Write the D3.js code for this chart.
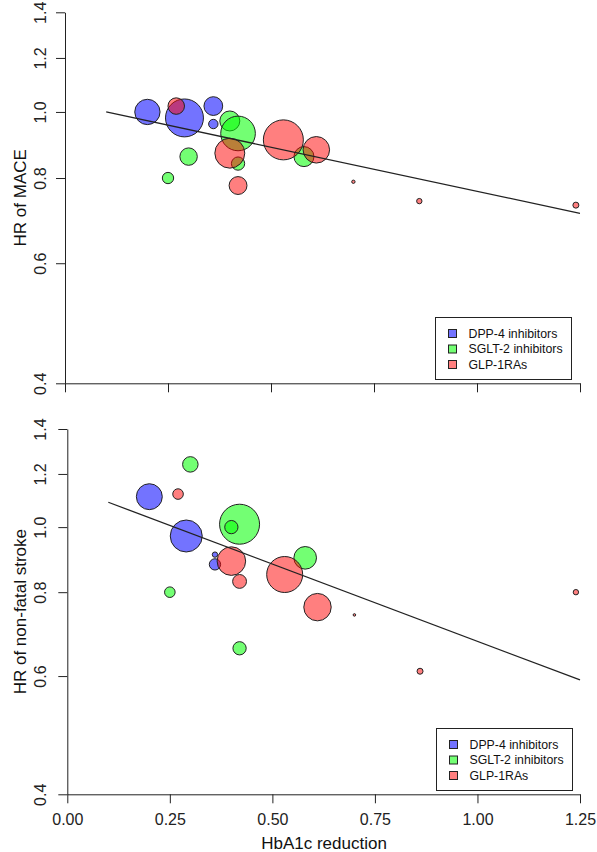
<!DOCTYPE html>
<html>
<head>
<meta charset="utf-8">
<script src="https://cdn.jsdelivr.net/npm/d3@7"></script>
<style>
  html, body { margin: 0; padding: 0; background: #fff; }
  svg { display: block; font-family: "Liberation Sans", Arial, Helvetica, sans-serif; }
</style>
</head>
<body>
<svg id="chart" width="597" height="852"></svg>
<script>
// ---------- DATA ----------
const classes = ["DPP-4 inhibitors", "SGLT-2 inhibitors", "GLP-1RAs"];
const xTicks = [0, 0.25, 0.5, 0.75, 1.0, 1.25];
const yTicks = [0.4, 0.6, 0.8, 1.0, 1.2, 1.4];

// Top panel: HR of MACE
const maceClass = [0, 0, 0, 0, 1, 1, 1, 1, 1, 1, 2, 2, 2, 2, 2, 2, 2, 2];
const maceX     = [0.20, 0.29, 0.36, 0.36, 0.25, 0.30, 0.40, 0.42, 0.42, 0.58, 0.27, 0.40, 0.42, 0.53, 0.61, 0.70, 0.86, 1.24];
const maceHR    = [1.00, 0.98, 1.02, 0.96, 0.80, 0.86, 0.97, 0.93, 0.84, 0.86, 1.02, 0.87, 0.78, 0.91, 0.88, 0.79, 0.74, 0.73];
const maceW     = [40, 90, 22, 5.5, 8, 19, 25, 75, 11, 25, 17, 56, 20, 100, 44, 0.7, 1.8, 2.25];
const maceFitX  = [0.10, 1.25];
const maceFitHR = [1.00, 0.71];

// Bottom panel: HR of non-fatal stroke
const strokeClass = [0, 0, 0, 0, 1, 1, 1, 1, 1, 1, 2, 2, 2, 2, 2, 2, 2, 2];
const strokeX     = [0.20, 0.29, 0.36, 0.36, 0.30, 0.42, 0.40, 0.25, 0.58, 0.42, 0.27, 0.40, 0.42, 0.53, 0.61, 0.70, 0.86, 1.24];
const strokeHR    = [1.11, 0.97, 0.91, 0.88, 1.24, 1.01, 1.00, 0.80, 0.90, 0.66, 1.12, 0.89, 0.83, 0.85, 0.76, 0.74, 0.61, 0.80];
const strokeW     = [42, 64, 1.8, 8, 15, 100, 11, 7, 32, 11, 7, 51, 12, 81, 47, 0.4, 2.25, 1.8];
const strokeFitX  = [0.10, 1.25];
const strokeFitHR = [1.089, 0.592];

// ---------- STYLE ----------
const fills = ["rgba(0,0,255,0.55)", "rgba(0,255,0,0.55)", "rgba(255,0,0,0.5)"];
const svg = d3.select("#chart");
const rScale = d3.scaleSqrt().domain([0, 100]).range([0, 20]);

function panel(cfg) {
  const x = d3.scaleLinear().domain([0, 1.25]).range([cfg.x0, cfg.x1]);
  const y = d3.scaleLog().domain([0.4, 1.4]).range([cfg.y0, cfg.y1]);
  const g = svg.append("g");

  // Y axis
  const ya = g.append("g").attr("transform", `translate(${cfg.x0},0)`)
    .call(d3.axisLeft(y).tickValues(yTicks).tickSize(9).tickSizeOuter(0).tickFormat(d3.format(".1f")));
  ya.select(".domain").attr("stroke", "#222");
  ya.selectAll(".tick line").attr("stroke", "#222");
  ya.selectAll(".tick text")
    .attr("x", null).attr("dy", null)
    .attr("transform", `translate(${40 - cfg.x0},0) rotate(-90)`)
    .attr("text-anchor", "middle").attr("dominant-baseline", "central")
    .attr("font-size", 16).attr("fill", "#222")
    .style("font-family", "inherit");

  // X axis
  const xa = g.append("g").attr("transform", `translate(0,${cfg.y0})`)
    .call(d3.axisBottom(x).tickValues(xTicks).tickSize(9).tickSizeOuter(0).tickFormat(cfg.xLabels ? d3.format(".2f") : ""));
  xa.select(".domain").attr("stroke", "#222");
  xa.selectAll(".tick line").attr("stroke", "#222");
  xa.selectAll(".tick text").attr("y", 31).attr("dy", null)
    .attr("font-size", 16).attr("fill", "#222").style("font-family", "inherit");

  // Y title
  g.append("text")
    .attr("transform", `translate(20,${(cfg.y0 + cfg.y1) / 2}) rotate(-90)`)
    .attr("text-anchor", "middle").attr("dominant-baseline", "central")
    .attr("font-size", 17).attr("fill", "#111").text(cfg.ytitle);

  // Bubbles
  const pts = cfg.cls.map((c, i) => ({ c, x: cfg.xs[i], hr: cfg.hrs[i], w: cfg.ws[i] }));
  g.append("g").selectAll("circle").data(pts).join("circle")
    .attr("cx", d => x(d.x)).attr("cy", d => y(d.hr))
    .attr("r", d => rScale(d.w))
    .attr("fill", d => fills[d.c])
    .attr("stroke", "#222").attr("stroke-width", 1);

  // Fit line
  g.append("line")
    .attr("x1", x(cfg.fx[0])).attr("y1", y(cfg.fy[0]))
    .attr("x2", x(cfg.fx[1])).attr("y2", y(cfg.fy[1]))
    .attr("stroke", "#222").attr("stroke-width", 1.3);

  // Legend
  const lg = g.append("g").attr("transform", `translate(${cfg.lx},${cfg.ly})`);
  lg.append("rect").attr("x", 0).attr("y", 0).attr("width", 136).attr("height", 62)
    .attr("fill", "#fff").attr("stroke", "#222").attr("stroke-width", 1);
  classes.forEach((name, i) => {
    const cy = 16 + i * 15.5;
    lg.append("rect").attr("x", 13).attr("y", cy - 4).attr("width", 8).attr("height", 8)
      .attr("fill", fills[i]).attr("stroke", "#222").attr("stroke-width", 1);
    lg.append("text").attr("x", 33).attr("y", cy).attr("dominant-baseline", "central")
      .attr("font-size", 12.3).attr("fill", "#111").text(name);
  });
}

panel({ x0: 65, x1: 580, y0: 383.3, y1: 12.3, xLabels: false, ytitle: "HR of MACE",
  cls: maceClass, xs: maceX, hrs: maceHR, ws: maceW, fx: maceFitX, fy: maceFitHR, lx: 435.5, ly: 317.5 });

panel({ x0: 67.3, x1: 580, y0: 794.3, y1: 429, xLabels: true, ytitle: "HR of non-fatal stroke",
  cls: strokeClass, xs: strokeX, hrs: strokeHR, ws: strokeW, fx: strokeFitX, fy: strokeFitHR, lx: 436.5, ly: 728.5 });

// X title
svg.append("text").attr("x", 324).attr("y", 849).attr("text-anchor", "middle")
  .attr("font-size", 17).attr("fill", "#111").text("HbA1c reduction");
</script>
</body>
</html>
